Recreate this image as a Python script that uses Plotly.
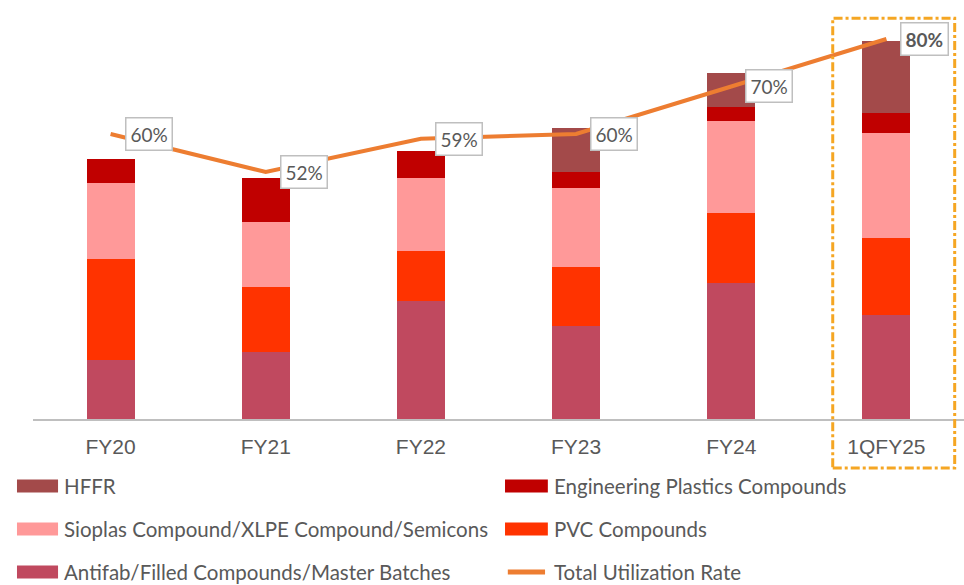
import plotly.graph_objects as go

categories = ["FY20", "FY21", "FY22", "FY23", "FY24", "1QFY25"]
antifab = [59, 67, 118, 93, 136, 104]
pvc = [101, 65, 50, 59, 70, 77]
sioplas = [76, 65, 73, 79, 92, 105]
epc = [24, 44, 27, 16, 14, 20]
hffr = [0, 0, 0, 44, 34, 72]
utilization = [60, 52, 59, 60, 70, 80]
util_labels = ["60%", "52%", "59%", "60%", "70%", "<b>80%</b>"]

series = [
    ("Antifab/Filled Compounds/Master Batches", antifab, "#C0495F"),
    ("PVC Compounds", pvc, "#FF3300"),
    ("Sioplas Compound/XLPE Compound/Semicons", sioplas, "#FF9999"),
    ("Engineering Plastics Compounds", epc, "#C00000"),
    ("HFFR", hffr, "#A34A4A"),
]
line_name = "Total Utilization Rate"
line_color = "#ED7D31"

TEXT = "#595959"
FONT = "Lato"

fig = go.Figure()
for name, vals, col in series:
    fig.add_trace(go.Bar(x=categories, y=vals, name=name, marker=dict(color=col, line=dict(width=0)),
                         width=0.31, showlegend=False))

fig.add_trace(go.Scatter(x=categories, y=utilization, name=line_name, yaxis="y2", mode="lines",
                         line=dict(color=line_color, width=4), showlegend=False))

for c, v, t in zip(categories, utilization, util_labels):
    fig.add_annotation(x=c, y=v, yref="y2", text=t, showarrow=False, xshift=38,
                       font=dict(family=FONT, size=19, color=TEXT), bgcolor="white",
                       bordercolor="#BFBFBF", borderwidth=1.5, borderpad=4)

# dashed highlight box
fig.add_shape(type="rect", xref="paper", yref="paper", x0=0.859, x1=0.990, y0=-0.12, y1=0.980,
              line=dict(color="#F5A623", width=3, dash="dashdot"), fillcolor="rgba(0,0,0,0)")

# manual legend (2 columns)
legend_items = [
    ("HFFR", "#A34A4A", "bar"),
    ("Engineering Plastics Compounds", "#C00000", "bar"),
    ("Sioplas Compound/XLPE Compound/Semicons", "#FF9999", "bar"),
    ("PVC Compounds", "#FF3300", "bar"),
    ("Antifab/Filled Compounds/Master Batches", "#C0495F", "bar"),
    (line_name, line_color, "line"),
]
row_y = [-0.1638, -0.2689, -0.374]
col_x = [(-0.0172, 0.0269, 0.0311), (0.507, 0.553, 0.5575)]
for i, (name, col, kind) in enumerate(legend_items):
    r, c = divmod(i, 2)
    x0, x1, xt = col_x[c]
    y = row_y[r]
    if kind == "bar":
        fig.add_shape(type="rect", xref="paper", yref="paper", x0=x0, x1=x1, y0=y - 0.0159, y1=y + 0.0159,
                      line=dict(width=0), fillcolor=col)
    else:
        fig.add_shape(type="line", xref="paper", yref="paper", x0=x0 + 0.003, x1=x1 - 0.003, y0=y, y1=y,
                      line=dict(color=col, width=5))
    fig.add_annotation(xref="paper", yref="paper", x=xt, y=y, text=name, showarrow=False,
                       xanchor="left", yanchor="middle",
                       font=dict(family=FONT, size=20.5, color=TEXT))

fig.update_layout(
    width=964, height=585,
    margin=dict(l=33, r=0, t=10, b=166),
    plot_bgcolor="white", paper_bgcolor="white",
    barmode="stack",
    font=dict(family=FONT, size=18, color=TEXT),
    xaxis=dict(showline=True, linecolor="#BFBFBF", linewidth=1.5, showgrid=False,
               tickfont=dict(family="Liberation Sans, Arial", size=21, color=TEXT), ticks="outside",
               ticklen=8, tickcolor="rgba(0,0,0,0)"),
    yaxis=dict(range=[0, 409], visible=False, showgrid=False),
    yaxis2=dict(range=[0, 86.1], overlaying="y", side="right", visible=False, showgrid=False),
    showlegend=False,
)

fig.write_html("out.html", config={"displayModeBar": False},
               post_script="document.body.style.margin='0';document.body.style.overflow='hidden';")
